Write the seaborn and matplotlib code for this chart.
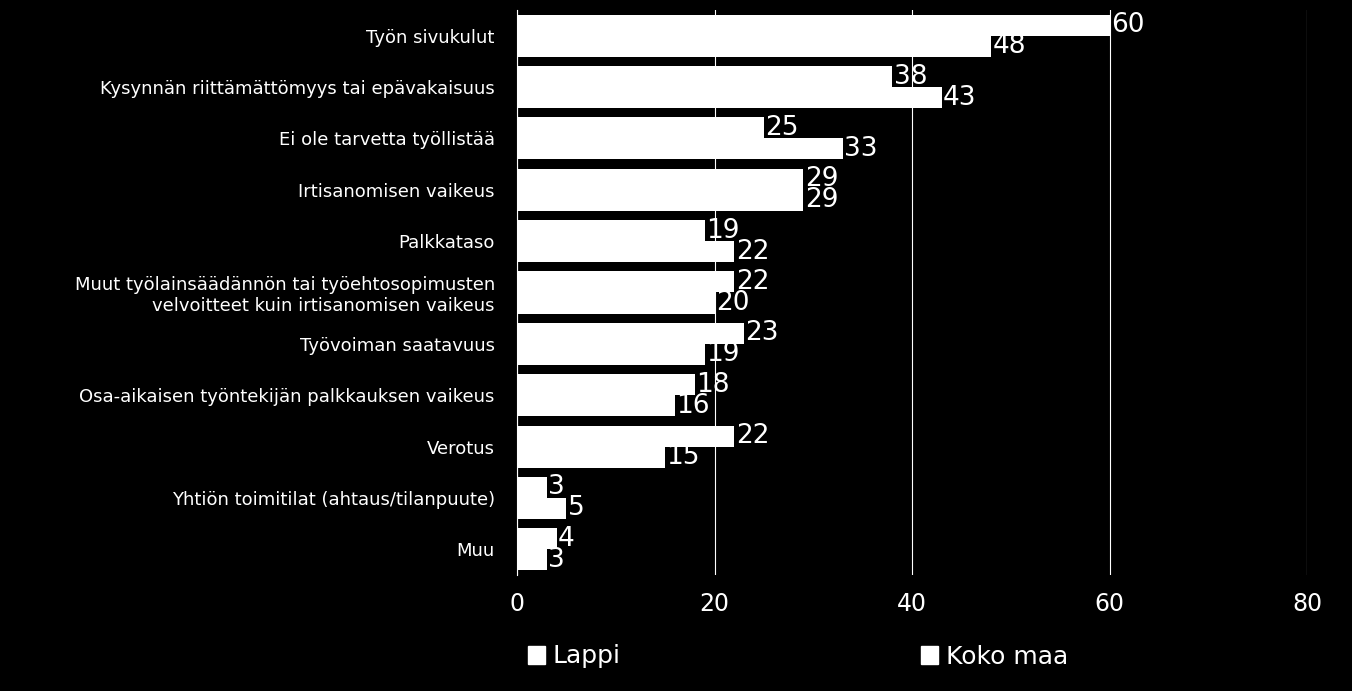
import matplotlib
matplotlib.use("Agg")
import matplotlib.pyplot as plt
import seaborn as sns
import pandas as pd

categories = ["Työn sivukulut", "Kysynnän riittämättömyys tai epävakaisuus", "Ei ole tarvetta työllistää",
              "Irtisanomisen vaikeus", "Palkkataso",
              "Muut työlainsäädännön tai työehtosopimusten\nvelvoitteet kuin irtisanomisen vaikeus",
              "Työvoiman saatavuus", "Osa-aikaisen työntekijän palkkauksen vaikeus", "Verotus",
              "Yhtiön toimitilat (ahtaus/tilanpuute)", "Muu"]
lappi = [60, 38, 25, 29, 19, 22, 23, 18, 22, 3, 4]
koko_maa = [48, 43, 33, 29, 22, 20, 19, 16, 15, 5, 3]
series = ["Lappi", "Koko maa"]

df = pd.DataFrame({"cat": categories * 2, "val": lappi + koko_maa,
                   "series": [series[0]] * len(categories) + [series[1]] * len(categories)})

plt.rcParams["font.family"] = "DejaVu Sans"
fig = plt.figure(figsize=(13.52, 6.91), dpi=100, facecolor="black")
ax = fig.add_axes([517/1352, 1-575/691, 790/1352, 565/691])
ax.set_facecolor("black")
sns.barplot(data=df, y="cat", x="val", hue="series", palette=["white", "white"],
            orient="h", width=0.82, linewidth=0, ax=ax, legend=False)
for c in ax.containers:
    ax.bar_label(c, fmt="%d", color="white", fontsize=19, padding=1)
ax.set_xlim(0, 80)
ax.set_xticks([0, 20, 40, 60, 80])
ax.xaxis.grid(True, color="white", linewidth=0.8)
ax.set_axisbelow(True)
ax.set_xlabel(""); ax.set_ylabel("")
ax.tick_params(axis="x", colors="white", labelsize=17, length=0, pad=12)
ax.tick_params(axis="y", colors="white", labelsize=13, length=0, pad=16)
for s in ["top", "right", "bottom"]:
    ax.spines[s].set_visible(False)
ax.spines["left"].set_color("white")
from matplotlib.patches import Patch
h = [Patch(facecolor="white", edgecolor="white") for _ in series]
fig.legend(h, series, loc="lower center", ncol=2, frameon=False, fontsize=18,
           labelcolor="white", bbox_to_anchor=(0.59, 0.0), columnspacing=12,
           handlelength=0.7, handleheight=0.7, handletextpad=0.3)
fig.savefig("out.png", dpi=100, facecolor="black")
